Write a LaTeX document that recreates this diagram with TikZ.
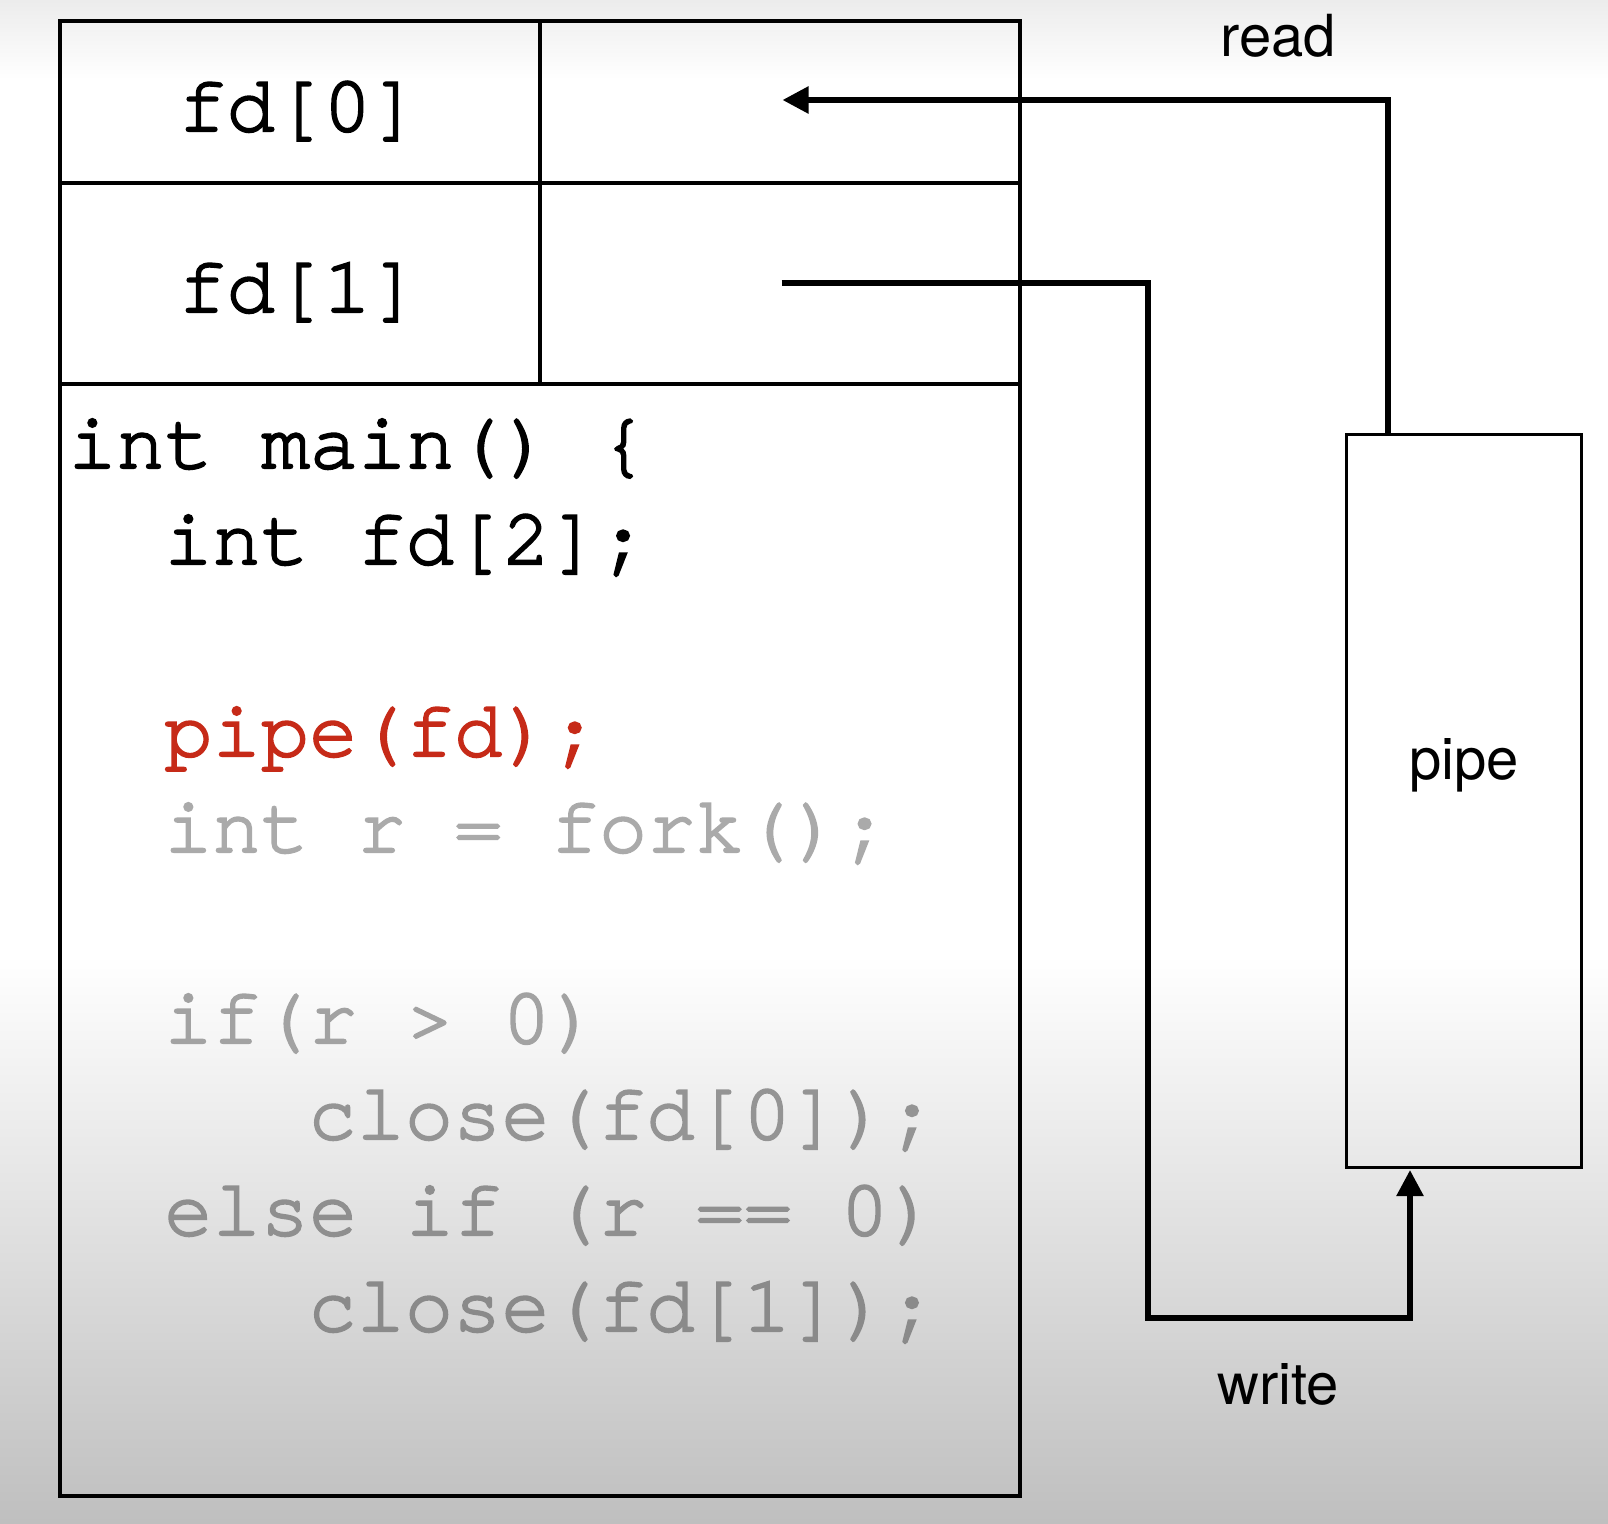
\documentclass[tikz,border=0pt]{standalone}
\usepackage{fontspec}
\usetikzlibrary{arrows.meta}
\newfontfamily\codefont[FakeBold=2.5]{TeX Gyre Cursor}
\newfontfamily\lblfont{TeX Gyre Heros}
\definecolor{codered}{RGB}{198,42,24}
\definecolor{bgtop}{RGB}{236,236,236}
\definecolor{bgbot}{RGB}{191,191,191}
\definecolor{gA}{RGB}{170,170,170}
\definecolor{gB}{RGB}{162,162,162}
\definecolor{gC}{RGB}{148,148,148}
\definecolor{gD}{RGB}{143,143,143}
\definecolor{gE}{RGB}{138,138,138}
\tikzset{
  code/.style={inner sep=0pt, anchor=base west, font=\codefont\fontsize{80.5}{80.5}\selectfont},
  cell/.style={inner sep=0pt, anchor=base, font=\codefont\fontsize{80.5}{80.5}\selectfont},
  lbl/.style={inner sep=0pt, anchor=base, font=\lblfont\fontsize{58}{58}\selectfont},
  boxline/.style={draw=black, line width=4pt},
  conn/.style={draw=black, line width=5.5pt, line join=miter},
  tip/.style={-{Triangle[length=26pt,width=26pt]}}
}
\begin{document}
\begin{tikzpicture}[x=1pt,y=-1pt]
\useasboundingbox (0,0) rectangle (1608,1523);
% background
\fill[white] (0,0) rectangle (1608,1523);
\shade[top color=bgtop, bottom color=white] (0,0) rectangle (1608,80);
\shade[top color=white, bottom color=bgbot] (0,955) rectangle (1608,1523);

% process box
\node[boxline, rectangle, outer sep=0pt, minimum width=960pt, minimum height=1475pt, anchor=north west, inner sep=0pt] (proc) at (60,20.5) {};
\coordinate (divtop) at (540,20.5);
\coordinate (divbot) at (540,384);
\coordinate (h1l) at (60,183);
\coordinate (h1r) at (1020,183);
\coordinate (h2l) at (60,384);
\coordinate (h2r) at (1020,384);
\draw[boxline] (divtop) -- (divbot);
\draw[boxline] (h1l) -- (h1r);
\draw[boxline] (h2l) -- (h2r);

\node[cell] (fd0) at (299,131) {fd[0]};
\node[cell] (fd1) at (299,312) {fd[1]};

% code
\node[code] (l1) at (68,468) {int main() \{};
\node[code] (l2) at (164,564) {int fd[2];};
\node[code, text=codered] (l3) at (164,756) {pipe(fd);};
\node[code, text=gA] (l4) at (164,852) {int r = fork();};
\node[code, text=gB] (l5) at (164,1043) {if(r > 0)};
\node[code, text=gC] (l6) at (308,1139) {close(fd[0]);};
\node[code, text=gD] (l7) at (164,1235) {else if (r == 0)};
\node[code, text=gE] (l8) at (308,1331) {close(fd[1]);};

% pipe
\node[draw=black, line width=3pt, rectangle, outer sep=0pt, minimum width=235pt, minimum height=733pt, anchor=north west, inner sep=0pt] (pipe) at (1346,434) {};
\node[lbl] (pipelbl) at (1464,779) {pipe};

% labels
\node[lbl] (readlbl) at (1278,56) {read};
\node[lbl] (writelbl) at (1278,1404) {write};

% read connector
\coordinate (rbend) at (1388,100);
\coordinate (rtip) at (782.5,100);
\draw[conn, tip] (pipe.north -| rbend) -- (rbend) -- (rtip);

% write connector
\coordinate (wstart) at (781.5,283);
\coordinate (wb1) at (1148,283);
\coordinate (wb2) at (1148,1318);
\coordinate (wb3) at (1410,1318);
\draw[conn, tip, shorten >=3pt] (wstart) -- (wb1) -- (wb2) -- (wb3) -- (pipe.south -| wb3);
\end{tikzpicture}
\end{document}
